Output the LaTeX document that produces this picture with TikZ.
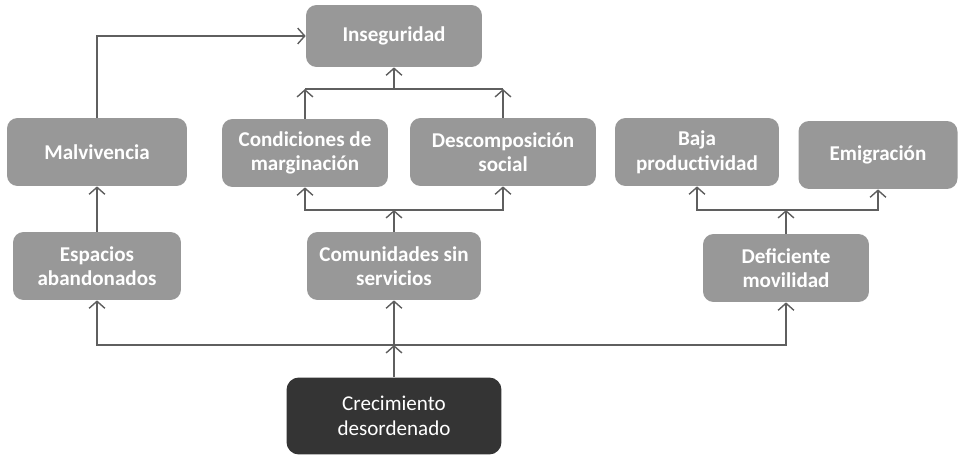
\documentclass[tikz,border=0pt]{standalone}
\usepackage{fontspec}
\setmainfont{Carlito}
\usepackage{xcolor}
\usepackage{tikz}
\usetikzlibrary{arrows,arrows.meta,positioning}
\definecolor{boxgrey}{RGB}{152,152,152}
\definecolor{darkbox}{RGB}{52,52,52}
\definecolor{linegrey}{RGB}{95,95,95}
\tikzstyle{arrow} = [thick,-{Straight Barb[length=4pt,width=9pt]},color=linegrey]
\tikzstyle{bus} = [thick,color=linegrey]
\tikzstyle{cause} = [fill=boxgrey,rounded corners=6pt,text=white,font=\bfseries\large,align=center,minimum width=3.4cm,minimum height=1.36cm,inner sep=2pt]
\tikzstyle{root} = [fill=darkbox,rounded corners=7pt,text=white,font=\large,align=center,minimum width=4.3cm,minimum height=1.54cm]

\begin{document}
\begin{tikzpicture}[x=0.02cm,y=-0.02cm]
        \useasboundingbox (0,0) rectangle (959,459);
        % Boxes
        \draw (394,36) node[cause,minimum width=3.52cm,minimum height=1.24cm] (ins) {Inseguridad};
        \draw (97,152) node[cause,minimum width=3.6cm] (mal) {Malvivencia};
        \draw (305,153) node[cause,minimum width=3.32cm] (cond) {Condiciones de\\marginación};
        \draw (503,152) node[cause,minimum width=3.72cm] (desc) {Descomposición\\social};
        \draw (697,152) node[cause,minimum width=3.28cm] (baja) {Baja\\productividad};
        \draw (878,155) node[cause,minimum width=3.18cm] (emig) {Emigración};
        \draw (97,266) node[cause,minimum width=3.36cm] (esp) {Espacios\\abandonados};
        \draw (394,266) node[cause,minimum width=3.48cm] (com) {Comunidades sin\\servicios};
        \draw (786,268) node[cause,minimum width=3.32cm] (def) {Deficiente\\movilidad};
        \draw (394,416) node[root] (crec) {Crecimiento\\desordenado};
        % buses
        \coordinate (b1) at (394,345);
        \coordinate (b2) at (394,210);
        \coordinate (b3) at (786,210);
        \coordinate (b4) at (394,89);
        % edges
        \draw[arrow] (crec.north) -- (b1);
        \draw[arrow] (b1) -- (com.south);
        \draw[arrow] (b1) -| (esp.south);
        \draw[arrow] (b1) -| (def.south);
        \draw[arrow] (esp.north) -- (mal.south);
        \draw[arrow] (mal.north) |- (ins.west);
        \draw[arrow] (com.north) -- (b2);
        \draw[arrow] (b2) -| (cond.south);
        \draw[arrow] (b2) -| (desc.south);
        \draw[arrow] (def.north) -- (b3);
        \draw[arrow] (b3) -| (baja.south);
        \draw[arrow] (b3) -| (emig.south);
        \draw[arrow] (cond.north) -- (cond.north |- b4);
        \draw[arrow] (desc.north) -- (desc.north |- b4);
        \draw[bus] (cond.north |- b4) -- (desc.north |- b4);
        \draw[arrow] (b4) -- (ins.south);
    \end{tikzpicture}
\end{document}
